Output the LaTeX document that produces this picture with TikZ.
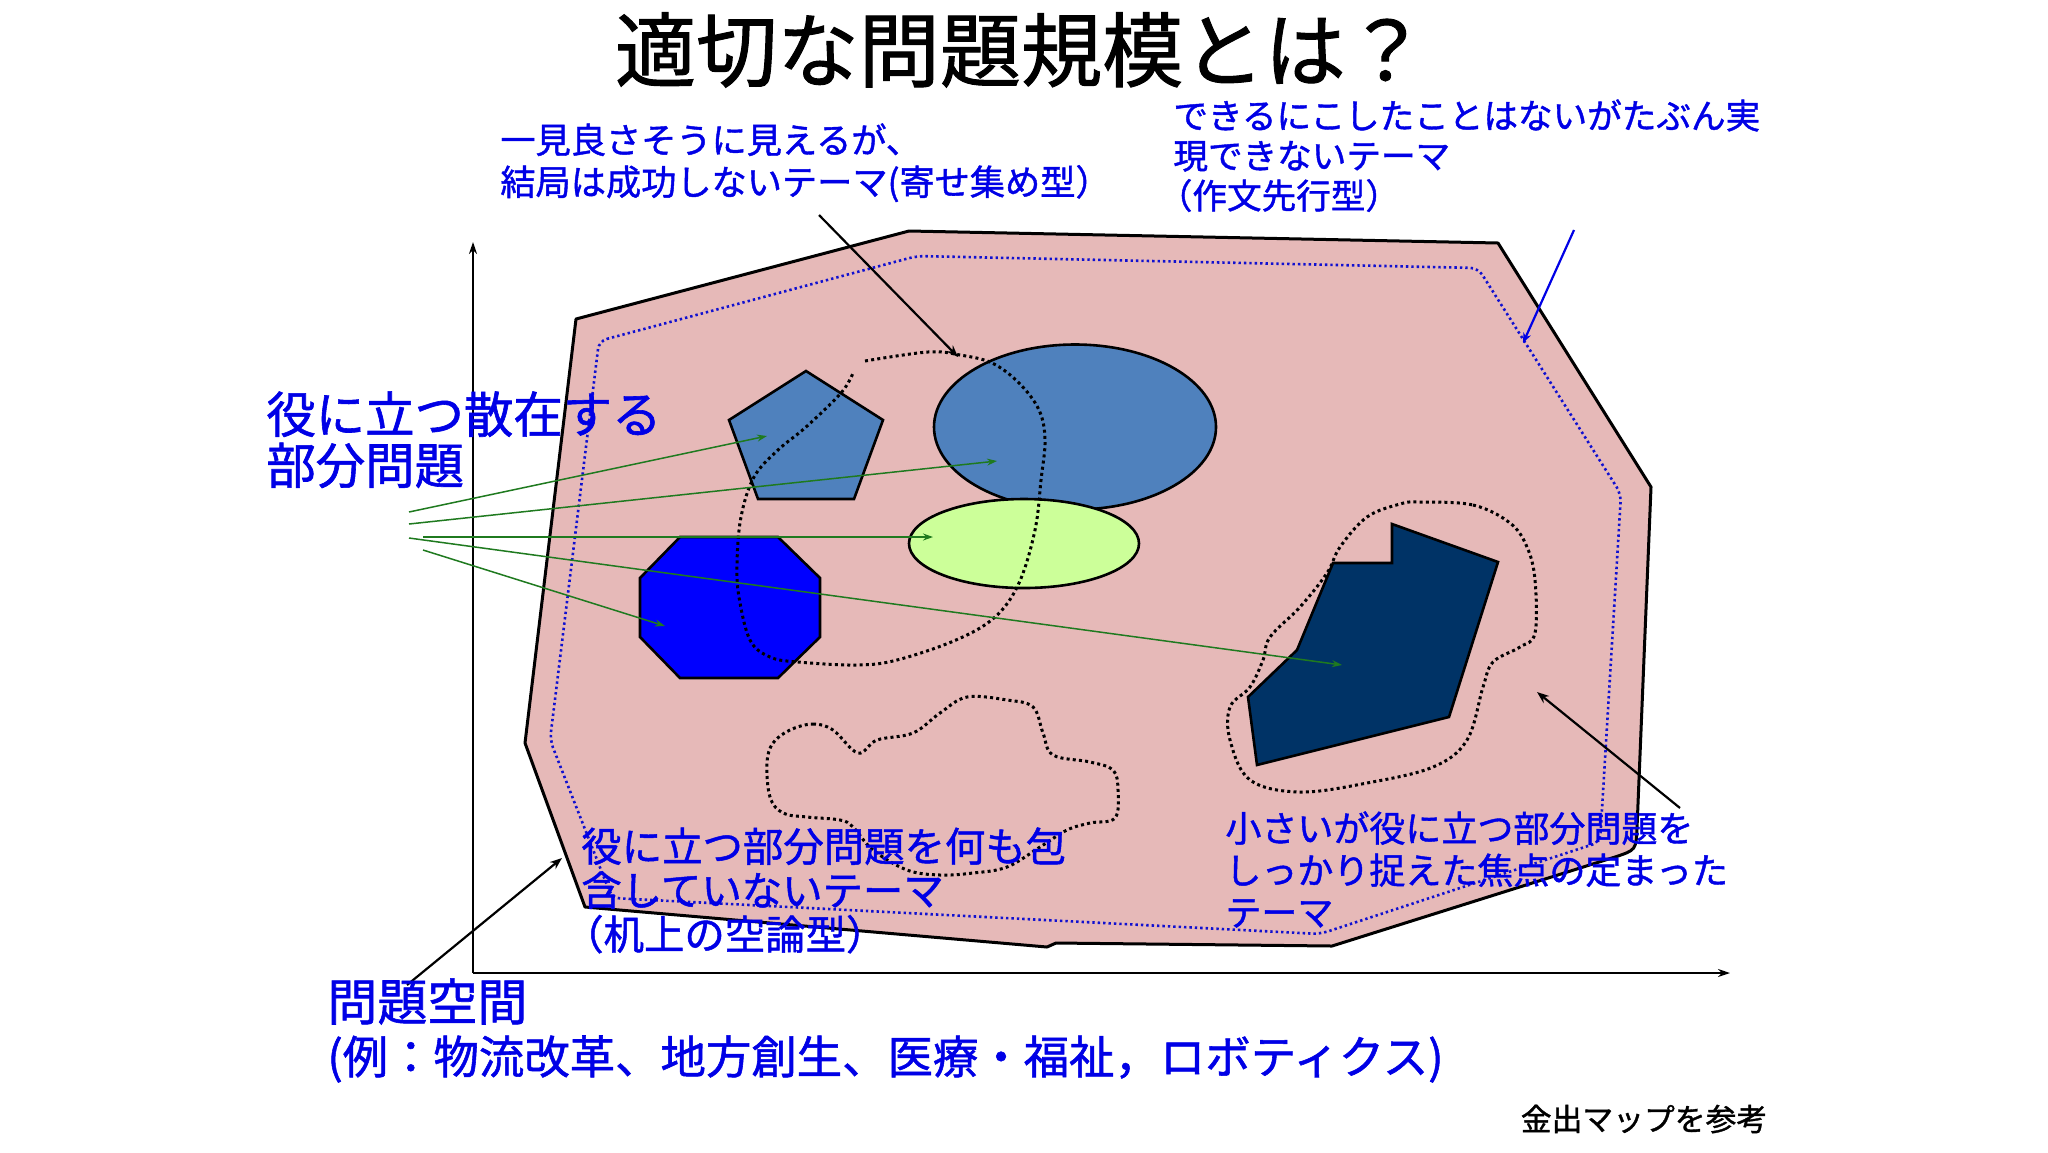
\documentclass[tikz,border=0pt]{standalone}
\usepackage{fontspec}
\newfontfamily\jp{Noto Sans CJK JP}[FakeBold=1.2]
\usetikzlibrary{arrows.meta}
\definecolor{pinkfill}{HTML}{E6B9B8}
\definecolor{steelfill}{HTML}{4F81BD}
\definecolor{limefill}{HTML}{CCFF99}
\definecolor{navyfill}{HTML}{003366}
\definecolor{octfill}{HTML}{0000FF}
\definecolor{txtblue}{HTML}{0000E6}
\definecolor{dotblue}{HTML}{1010D0}
\definecolor{arrgreen}{HTML}{1F7A1F}
\begin{document}
\begin{tikzpicture}[x=0.5pt,y=-0.5pt,
  axisline/.style={draw=black,line width=1pt,-{Stealth[length=6pt,width=4pt]}},
  shapeline/.style={draw=black,line width=1.3pt},
  blobdots/.style={draw=black,line width=1.5pt,dash pattern=on 1.5pt off 1.6pt},
  innerdots/.style={draw=dotblue,line width=1.3pt,dash pattern=on 1.2pt off 1.5pt,rounded corners=4pt},
  greenarrow/.style={draw=arrgreen,line width=0.75pt,-{Stealth[length=5pt,width=3.5pt]}},
  blackarrow/.style={draw=black,line width=1.1pt,-{Stealth[length=6pt,width=4.5pt]}},
  bluearrow/.style={draw=txtblue,line width=1.1pt,-{Stealth[length=5pt,width=4pt]}},
  lbl/.style={text=txtblue,inner sep=0pt,align=left,anchor=north west}
]
\useasboundingbox (0,0) rectangle (2048,1152);
\fill[white] (0,0) rectangle (2048,1152);

% axes
\coordinate (origin) at (473,973);
\coordinate (ytop) at (473,242);
\coordinate (xend) at (1730,973);
\draw[axisline] (origin) -- (ytop);
\draw[axisline] (origin) -- (xend);

% problem space
\draw[fill=pinkfill,line width=1.5pt,line join=round]
  (576,319) -- (909,231) -- (1498,243) -- (1651,487) -- (1637,828)
  .. controls (1636,850) .. (1615,857) -- (1332,946) -- (1056,943)
  -- (1047,947) -- (585,907) -- (525,743) -- cycle;
\draw[innerdots] (599,341) -- (917,256) -- (1478,268) -- (1621,494)
  -- (1600,842) -- (1320,934) -- (612,898) -- (550,740) -- cycle;

% useful sub-problems
\draw[shapeline,fill=steelfill] (1075,427) ellipse [x radius=70.5pt, y radius=41.25pt];
\draw[shapeline,fill=limefill] (1024,543.5) ellipse [x radius=57.5pt, y radius=22.25pt];
\draw[shapeline,fill=steelfill,line join=miter]
  (806,371) -- (883,420) -- (854,499) -- (758,499) -- (729,420) -- cycle;
\draw[shapeline,fill=octfill]
  (680,537) -- (778,537) -- (820,578) -- (820,637) -- (778,678) -- (680,678) -- (640,637) -- (640,578) -- cycle;
\draw[shapeline,fill=navyfill]
  (1392,524) -- (1498,562) -- (1449,717) -- (1257,765) -- (1248,697) -- (1297,650) -- (1333,563) -- (1392,563) -- cycle;

% dotted themes
\draw[blobdots] plot[smooth,tension=0.6] coordinates {
  (865,361) (928,352) (960,355) (992,363) (1019,383) (1039,410) (1045,440)
  (1041,480) (1035,530) (1019,583) (995,617) (956,640) (897,660) (857,665)
  (798,662) (770,657) (750,640) (739,597) (737,563) (741,517) (754,477)
  (778,450) (806,427) (841,393) (853,373)};
\draw[blobdots] plot[smooth cycle,tension=0.6] coordinates {
  (1420,502) (1473,505) (1510,523) (1527,547) (1535,580) (1535,633) (1520,647)
  (1493,662) (1483,687) (1467,740) (1433,767) (1367,783) (1300,792) (1250,780)
  (1230,740) (1230,707) (1250,687) (1263,660) (1270,637) (1300,607) (1327,573)
  (1340,547) (1367,517) (1400,504)};
\draw[blobdots] plot[smooth cycle,tension=0.6] coordinates {
  (790,730) (813,724) (833,730) (858,753) (877,740) (913,733) (940,713)
  (967,697) (1007,700) (1033,707) (1043,733) (1053,755) (1090,762) (1113,770)
  (1118,790) (1115,818) (1090,823) (1067,830) (1040,847) (1007,867) (973,873)
  (940,875) (907,870) (873,850) (853,827) (840,820) (807,817) (783,813)
  (770,797) (767,763) (773,743)};

% green arrows
\coordinate (s1) at (409,512); \coordinate (t1) at (767,436);
\coordinate (s2) at (409,524); \coordinate (t2) at (997,461);
\coordinate (s3) at (423,537); \coordinate (t3) at (933,537);
\coordinate (s4) at (409,538); \coordinate (t4) at (1342,665);
\coordinate (s5) at (423,550); \coordinate (t5) at (665,626);
\draw[greenarrow] (s1) -- (t1);
\draw[greenarrow] (s2) -- (t2);
\draw[greenarrow] (s3) -- (t3);
\draw[greenarrow] (s4) -- (t4);
\draw[greenarrow] (s5) -- (t5);

% pointer arrows
\coordinate (a1s) at (819,215); \coordinate (a1e) at (958,357);
\coordinate (a2s) at (1574,230); \coordinate (a2e) at (1523,343);
\coordinate (a3s) at (1680,808); \coordinate (a3e) at (1537,692);
\coordinate (a4s) at (407,985); \coordinate (a4e) at (562,858);
\draw[blackarrow] (a1s) -- (a1e);
\draw[bluearrow] (a2s) -- (a2e);
\draw[blackarrow] (a3s) -- (a3e);
\draw[blackarrow] (a4s) -- (a4e);

% texts
\node[font={\jp\fontsize{40.6}{48}\selectfont},text=black] (title) at (1021,50) {適切な問題規模とは？};
\node[lbl,font={\jp\fontsize{17.6}{21}\selectfont}] (yose) at (500,123)
  {一見良さそうに見えるが、\\結局は成功しないテーマ(寄せ集め型）};
\node[lbl,font={\jp\fontsize{17.3}{20}\selectfont}] (sakubun) at (1173,99)
  {できるにこしたことはないがたぶん実\\現できないテーマ\\\kern-0.45em（作文先行型）};
\node[lbl,font={\jp\fontsize{24.7}{25.5}\selectfont}] (sanzai) at (266,391)
  {役に立つ散在する\\部分問題};
\node[lbl,font={\jp\fontsize{20.2}{22}\selectfont}] (kijou) at (581,827)
  {役に立つ部分問題を何も包\\含していないテーマ\\\kern-0.45em（机上の空論型）};
\node[lbl,font={\jp\fontsize{18}{21}\selectfont}] (shouten) at (1225,811)
  {小さいが役に立つ部分問題を\\しっかり捉えた焦点の定まった\\テーマ};
\node[lbl,font={\jp\fontsize{25}{27}\selectfont}] (kuukan) at (327,978)
  {問題空間};
\node[lbl,font={\jp\fontsize{22.7}{27}\selectfont}] (rei) at (327,1035)
  {(例：物流改革、地方創生、医療・福祉，ロボティクス)};
\node[font={\jp\fontsize{15.4}{18}\selectfont},text=black] (kanade) at (1644,1119) {金出マップを参考};
\end{tikzpicture}
\end{document}
